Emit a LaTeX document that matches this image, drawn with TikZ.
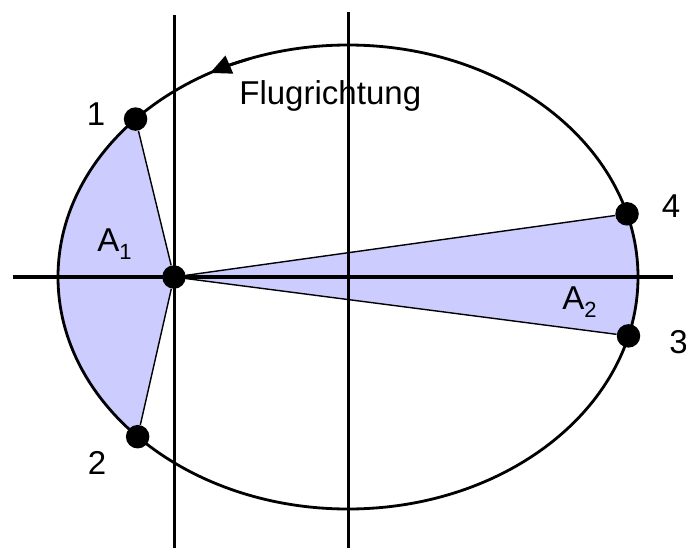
\documentclass[tikz,border=0pt]{standalone}
\usepackage{fontspec}
\setmainfont{Liberation Sans}
\usetikzlibrary{arrows.meta}
\definecolor{areablue}{RGB}{204,204,255}
\newcommand{\areaidx}[1]{\raisebox{-4.7pt}{\fontsize{12.5}{14}\selectfont #1}}
\tikzset{
  axisline/.style={line width=1.8pt},
  orbit/.style={line width=1.6pt},
  radiusline/.style={line width=0.8pt},
  dot/.style={circle, fill=black, inner sep=0pt, minimum size=0.47cm},
  lbl/.style={inner sep=0pt, font=\fontsize{18.8}{22}\selectfont},
}
\begin{document}
\begin{tikzpicture}
\useasboundingbox (0,0) rectangle (13.72,10.96);
\def\ea{5.8}
\def\eb{4.64}
\coordinate (C) at (6.96,5.42);
\coordinate (F) at (3.48,5.42);
% points on the orbit (parametric angle)
\foreach \n/\t in {1/137.1, 2/223.5, 3/-14.7, 4/15.8}
  \path (C) ++(\t:\ea cm and \eb cm) coordinate (P\n);
\path (C) ++(110:\ea cm and \eb cm) coordinate (T0);
% swept areas
\fill[areablue] (F) -- (P1) arc[start angle=137.1, end angle=223.5, x radius=\ea, y radius=\eb] -- cycle;
\fill[areablue] (F) -- (P3) arc[start angle=-14.7, end angle=15.8, x radius=\ea, y radius=\eb] -- cycle;
% orbit and axes
\draw[orbit] (C) ellipse[x radius=\ea, y radius=\eb];
\draw[axisline] (0.254,5.42) -- (13.454,5.42);
\draw[axisline] (3.486,0) -- (3.486,10.66);
\draw[axisline] (6.966,0) -- (6.966,10.72);
\draw[orbit, -{Triangle[length=0.42cm, width=0.38cm]}] (T0) arc[start angle=110, end angle=118.4, x radius=\ea, y radius=\eb];
% sun and positions
\node[dot] (f) at (F) {};
\foreach \n in {1,...,4} {
  \node[dot] (p\n) at (P\n) {};
  \draw[radiusline] (f) -- (p\n);
}
% labels
\node[lbl, anchor=base west] (flug) at (4.78,8.86) {Flugrichtung};
\foreach \n/\x/\y in {1/1.92/8.68, 2/1.94/1.70, 3/13.57/4.11, 4/13.42/6.83}
  \node[lbl] (l\n) at (\x,\y) {\n};
\node[lbl, anchor=base west] (a1) at (1.94,5.926) {A\areaidx{1}};
\node[lbl, anchor=base west] (a2) at (11.24,4.78) {A\areaidx{2}};
\end{tikzpicture}
\end{document}
